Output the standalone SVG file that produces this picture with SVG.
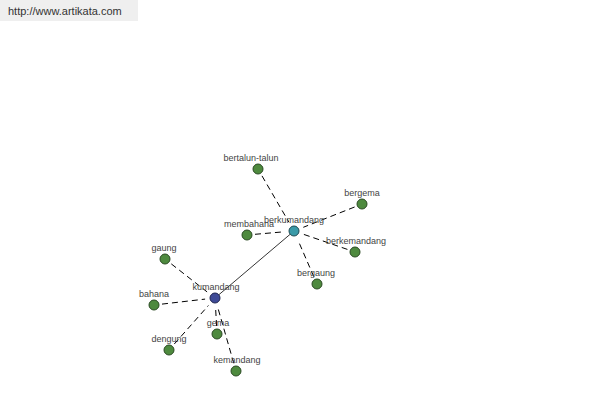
<svg xmlns="http://www.w3.org/2000/svg" width="600" height="400" viewBox="0 0 600 400">
<style>
.leaf{fill:#4e8a3e;stroke:#2a4a22;stroke-width:1}
.lbl{font-family:"Liberation Sans",Arial,sans-serif;font-size:9px;fill:#444;text-anchor:middle}
.dash{stroke:#000;stroke-width:1;stroke-dasharray:6 4;fill:none}
</style>
<rect width="600" height="400" fill="#fff"/>
<rect x="0" y="0" width="138" height="21" fill="#efefef"/>
<text x="8" y="15" font-family="Liberation Sans,Arial,sans-serif" font-size="11" fill="#333">http://www.artikata.com</text>
<g id="connectors">
<line x1="215" y1="298" x2="294" y2="231" stroke="#000" stroke-width="0.8"/>
<line class="dash" x1="262" y1="175.9" x2="289" y2="222.3"/>
<line class="dash" x1="354.6" y1="207" x2="303.3" y2="227.3"/>
<line class="dash" x1="255" y1="234.3" x2="284" y2="231.8"/>
<line class="dash" x1="347.4" y1="249.4" x2="303.5" y2="234.3"/>
<line class="dash" x1="313.8" y1="276.7" x2="298" y2="240.2"/>
<line class="dash" x1="171.3" y1="263.9" x2="207.1" y2="291.9"/>
<line class="dash" x1="162" y1="304.1" x2="205.1" y2="299.1"/>
<line class="dash" x1="216.6" y1="326" x2="215.6" y2="308"/>
<line class="dash" x1="174.3" y1="344" x2="208.4" y2="305.5"/>
<line class="dash" x1="233.8" y1="363.3" x2="217.8" y2="307.6"/>
</g>
<g id="berkumandang"><circle cx="294" cy="231" r="5" fill="#3a9aa8" stroke="#1e4a52"/><text class="lbl" x="294" y="223">berkumandang</text></g>
<g id="kumandang"><circle cx="215" cy="298" r="5" fill="#3e4a96" stroke="#1e2450"/><text class="lbl" x="216" y="290">kumandang</text></g>
<g id="bertalun-talun"><circle class="leaf" cx="258" cy="169" r="5"/><text class="lbl" x="251" y="161">bertalun-talun</text></g>
<g id="bergema"><circle class="leaf" cx="362" cy="204" r="5"/><text class="lbl" x="362" y="196">bergema</text></g>
<g id="membahana"><circle class="leaf" cx="247" cy="235" r="5"/><text class="lbl" x="249" y="227">membahana</text></g>
<g id="berkemandang"><circle class="leaf" cx="355" cy="252" r="5"/><text class="lbl" x="356" y="244">berkemandang</text></g>
<g id="bergaung"><circle class="leaf" cx="317" cy="284" r="5"/><text class="lbl" x="316" y="276">bergaung</text></g>
<g id="gaung"><circle class="leaf" cx="165" cy="259" r="5"/><text class="lbl" x="164" y="251">gaung</text></g>
<g id="bahana"><circle class="leaf" cx="154" cy="305" r="5"/><text class="lbl" x="154" y="297">bahana</text></g>
<g id="gema"><circle class="leaf" cx="217" cy="334" r="5"/><text class="lbl" x="218" y="326">gema</text></g>
<g id="dengung"><circle class="leaf" cx="169" cy="350" r="5"/><text class="lbl" x="169" y="342">dengung</text></g>
<g id="kemandang"><circle class="leaf" cx="236" cy="371" r="5"/><text class="lbl" x="237" y="363">kemandang</text></g>
</svg>
